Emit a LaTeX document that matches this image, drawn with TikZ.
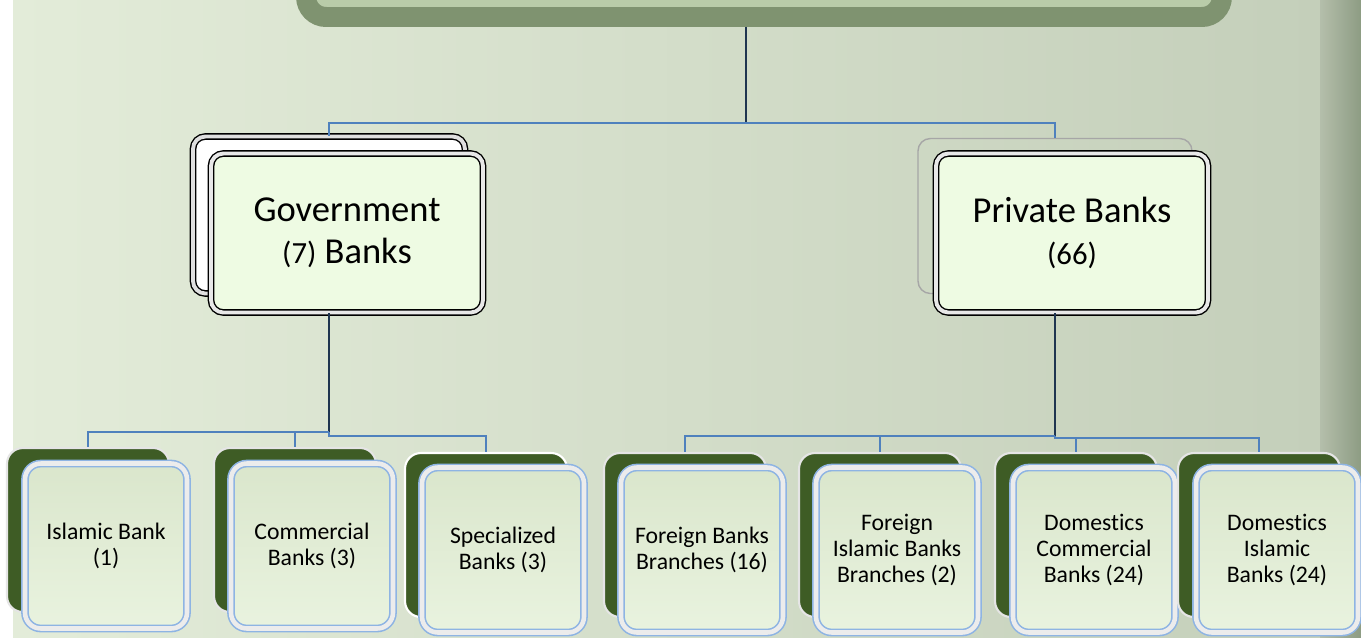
\documentclass[tikz,border=0pt]{standalone}
\usepackage{fontspec}
\setmainfont{Carlito}[Ligatures=NoCommon]
\usetikzlibrary{positioning}
\definecolor{bgleft}{HTML}{E3ECD9}
\definecolor{bgright}{HTML}{C4CFBA}
\definecolor{bgedge}{HTML}{8D9C83}
\definecolor{topouter}{HTML}{7F9370}
\definecolor{topinner}{HTML}{B9CCA9}
\definecolor{backgreen}{HTML}{3E5C25}
\definecolor{frontfill}{HTML}{EEFBE3}
\definecolor{leaftop}{HTML}{DAE6CC}
\definecolor{leafbot}{HTML}{E9F3DF}
\definecolor{edgeblue}{HTML}{8EB4E3}
\definecolor{linkblue}{HTML}{4F81BD}
\definecolor{linkdark}{HTML}{1F3550}
\tikzset{
  rootbox/.style={fill=topinner,draw=topouter,line width=0.4cm,rounded corners=0.4cm,
    minimum width=18.32cm,minimum height=1.56cm},
  topfront/.style={fill=frontfill,draw=black,double=white!82!gray,double distance=2.2pt,
    line width=0.8pt,rounded corners=7pt,minimum width=5.44cm,minimum height=3.18cm,
    inner sep=0pt,align=center,font=\fontsize{20.8}{23.9}\selectfont},
  govback/.style={fill=white,draw=black,double=white!75!gray,double distance=2.2pt,
    line width=0.8pt,rounded corners=7pt,minimum width=5.44cm,minimum height=3.14cm},
  privback/.style={draw=gray!70!white,line width=0.8pt,rounded corners=7pt,
    minimum width=5.48cm,minimum height=3.1cm},
  leafback/.style={fill=backgreen,draw=white!80!gray,line width=1.2pt,rounded corners=9pt,
    minimum width=3.24cm,minimum height=3.28cm},
  flatback/.style={leafback,draw=white},
  leaffront/.style={top color=leaftop,bottom color=leafbot,draw=edgeblue,
    double=white!85!gray,double distance=2.6pt,line width=0.9pt,rounded corners=9pt,
    minimum width=3.24cm,minimum height=3.3cm,inner sep=0pt,align=center,
    font=\fontsize{13.5}{14.9}\selectfont},
  stem/.style={draw=linkdark,line width=1.1pt},
  branch/.style={draw=linkblue,line width=1.1pt}
}
\newcommand{\smallnum}[1]{{\fontsize{17.5}{20}\selectfont #1}}
\begin{document}
\begin{tikzpicture}[x=0.02cm,y=-0.02cm]
\useasboundingbox (0,0) rectangle (1361,637);
\fill[white] (0,0) rectangle (13,637);
\shade[left color=bgleft,right color=bgright] (13,0) rectangle (1320,637);
\shade[left color=bgright!92!black,right color=bgedge] (1320,0) rectangle (1361,637);
\node[rootbox] (root) at (764,-22) {};
% level 1
\node[govback] (govb) at (329,215) {};
\node[topfront] (gov) at (347,233) {Government\\\smallnum{(7)} Banks};
\node[privback] (privb) at (1055,216) {};
\node[topfront] (priv) at (1072,233) {Private Banks\\\smallnum{(66)}};
% level 2, government
\node[leafback] (islb) at (88,530) {};
\node[leaffront] (isl) at (106,546) {Islamic Bank\\(1)};
\node[leafback] (comb) at (295,530) {};
\node[leaffront] (com) at (312,546) {Commercial\\Banks (3)};
\node[flatback] (speb) at (486,535) {};
\node[leaffront] (spe) at (503,550) {Specialized\\Banks (3)};
% level 2, private
\node[leafback] (forb) at (685,535) {};
\node[leaffront] (for) at (702,550) {Foreign Banks\\Branches (16)};
\node[leafback] (fisb) at (880,535) {};
\node[leaffront] (fis) at (897,550) {Foreign\\Islamic Banks\\Branches (2)};
\node[leafback] (dcob) at (1076,535) {};
\node[leaffront] (dco) at (1094,550) {Domestics\\Commercial\\Banks (24)};
\node[leafback] (disb) at (1259,535) {};
\node[leaffront] (dis) at (1277,550) {Domestics\\Islamic\\Banks (24)};
% connectors
\coordinate (rootsplit) at (746,123);
\draw[stem] (root.south -| rootsplit) -- (rootsplit);
\draw[branch] (govb.north) |- (rootsplit) -| (privb.north);
\draw[stem] (gov.south -| govb.north) -- ++(0,119) coordinate (govsplit);
\draw[branch] (islb.north) |- (govsplit);
\draw[branch] (comb.north) -- (comb.north |- govsplit);
\draw[branch] (govsplit) -- ++(0,4) -| (speb.north);
\draw[stem] (priv.south -| privb.north) -- ++(0,123) coordinate (privsplit);
\draw[branch] (forb.north) |- (privsplit);
\draw[branch] (fisb.north) -- (fisb.north |- privsplit);
\draw[branch] (privsplit) -- ++(0,2) coordinate (privright) -| (disb.north);
\draw[branch] (dcob.north) -- (dcob.north |- privright);
\end{tikzpicture}
\end{document}
